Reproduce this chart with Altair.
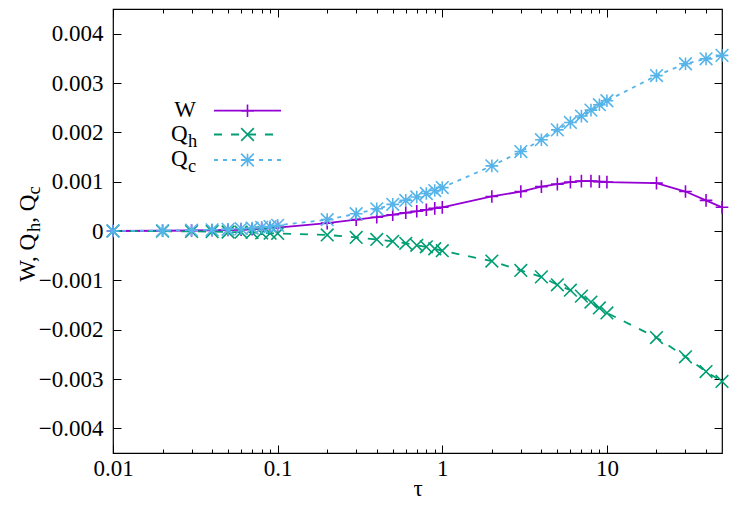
import altair as alt
import pandas as pd

# ---------------- data ----------------
tau = [0.01, 0.02, 0.03, 0.04, 0.05, 0.06, 0.07, 0.08, 0.09,
       0.1, 0.2, 0.3, 0.4, 0.5, 0.6, 0.7, 0.8, 0.9,
       1, 2, 3, 4, 5, 6, 7, 8, 9,
       10, 20, 30, 40, 50]

W = [0.0, 0.000005, 0.00001, 0.000015, 0.00002, 0.000028, 0.000036, 0.000045, 0.000055,
     0.00007, 0.00016, 0.00023, 0.00028, 0.00033, 0.00037, 0.0004, 0.00043, 0.00046,
     0.00048, 0.0007, 0.0008, 0.0009, 0.00095, 0.00099, 0.00101, 0.00101, 0.001,
     0.00099, 0.00097, 0.0008, 0.00062, 0.00048]

Q_h = [0.0, -0.000004, -0.000008, -0.000012, -0.00002, -0.000025, -0.00003, -0.00004, -0.000045,
       -0.00005, -0.00008, -0.00013, -0.00017, -0.00021, -0.00025, -0.00029, -0.00032, -0.00036,
       -0.0004, -0.00061, -0.0008, -0.00093, -0.00109, -0.0012, -0.00132, -0.00144, -0.00156,
       -0.00166, -0.00216, -0.00255, -0.00285, -0.00305]

Q_c = [0.0, 0.000008, 0.000016, 0.000025, 0.000034, 0.000046, 0.00006, 0.000075, 0.00009,
       0.000115, 0.00023, 0.00035, 0.00045, 0.00054, 0.00062, 0.00069, 0.00076, 0.00082,
       0.00088, 0.00132, 0.00161, 0.00185, 0.00205, 0.0022, 0.00233, 0.00245, 0.00256,
       0.00264, 0.00315, 0.00339, 0.00349, 0.00356]

series_names = ["W", "Q_h", "Q_c"]
series_values = [W, Q_h, Q_c]

x_major_ticks = [0.01, 0.1, 1, 10]
x_minor_ticks = [0.02, 0.03, 0.04, 0.05, 0.06, 0.07, 0.08, 0.09,
                 0.2, 0.3, 0.4, 0.5, 0.6, 0.7, 0.8, 0.9,
                 2, 3, 4, 5, 6, 7, 8, 9, 20, 30, 40]
y_ticks = [-0.004, -0.003, -0.002, -0.001, 0.0, 0.001, 0.002, 0.003, 0.004]

# ---------------- styles ----------------
FONT = "Liberation Serif"
FS = 23
SUB_FS = 18.4
colors = {"W": "#9400D3", "Q_h": "#009E73", "Q_c": "#56B4E9"}
dashes = {"W": None, "Q_h": [8, 9], "Q_c": [4, 5]}
shapes = {
    "W": "M-1,0L1,0M0,-1L0,1",
    "Q_h": "M-1,-1L1,1M-1,1L1,-1",
    "Q_c": "M-1,0L1,0M0,-1L0,1M-1,-1L1,1M-1,1L1,-1",
}
MARK_SIZE = 160

rows = []
for name, vals in zip(series_names, series_values):
    for t, v in zip(tau, vals):
        rows.append({"tau": t, "value": v, "series": name})
df = pd.DataFrame(rows)

xscale = alt.Scale(type="log", domain=[0.01, 50], nice=False)
yscale = alt.Scale(domain=[-0.0045, 0.0045], nice=False, zero=False)

common = dict(grid=False, domain=False, tickColor="black", tickWidth=1,
              labelFont=FONT, labelFontSize=FS, labelColor="black")

ax_x_bottom_major = alt.Axis(orient="bottom", values=x_major_ticks, format="~g",
                             tickSize=8, offset=-8, labelPadding=4,
                             labelFlush=False, labelOverlap=False,
                             title="τ", titleFont=FONT, titleFontSize=FS,
                             titleFontWeight="normal", titleColor="black",
                             titleY=50, titleBaseline="alphabetic", **common)
ax_x_bottom_minor = alt.Axis(orient="bottom", values=x_minor_ticks, tickSize=4,
                             offset=-4, labels=False, title=None, **common)
ax_x_top_major = alt.Axis(orient="top", values=x_major_ticks, tickSize=8,
                          offset=-8, labels=False, title=None, **common)
ax_x_top_minor = alt.Axis(orient="top", values=x_minor_ticks, tickSize=4,
                          offset=-4, labels=False, title=None, **common)
ax_y_left = alt.Axis(orient="left", values=y_ticks, format=".3~f", tickSize=8,
                     offset=-8, labelPadding=10, labelOverlap=False,
                     labelFlush=False, title=None, **common)
ax_y_right = alt.Axis(orient="right", values=y_ticks, tickSize=8, offset=-8,
                      labels=False, title=None, **common)

x_axes = [ax_x_bottom_major, ax_x_bottom_minor, ax_x_top_major, ax_x_top_minor, None, None]
y_axes = [ax_y_left, ax_y_right, None, None, None, None]

base = alt.Chart(df)
layers = []
k = 0
for name in series_names:
    sub = base.transform_filter(alt.datum.series == name)
    line_kw = dict(color=colors[name], strokeWidth=1.8)
    if dashes[name]:
        line_kw["strokeDash"] = dashes[name]
    for mk in ("line", "point"):
        xa, ya = x_axes[k], y_axes[k]
        xenc = alt.X("tau:Q", scale=xscale, axis=xa)
        yenc = alt.Y("value:Q", scale=yscale, axis=ya)
        if mk == "line":
            layer = sub.mark_line(**line_kw).encode(x=xenc, y=yenc, order="tau:Q")
        else:
            layer = sub.mark_point(shape=shapes[name], size=MARK_SIZE, filled=False,
                                   color=colors[name], strokeWidth=1.6, opacity=1).encode(x=xenc, y=yenc)
        layers.append(layer)
        k += 1

# ---------------- manual legend (gnuplot style key, with subscripts) ----------------
legend_rows = {"W": 101.7, "Q_h": 125.5, "Q_c": 151.0}
legend_main = {"W": "W", "Q_h": "Q", "Q_c": "Q"}
legend_sub = {"W": "", "Q_h": "h", "Q_c": "c"}
for name in series_names:
    ry = legend_rows[name]
    one = alt.Data(values=[{"s": name}])
    rule_kw = dict(color=colors[name], strokeWidth=1.8)
    if dashes[name]:
        rule_kw["strokeDash"] = dashes[name]
    layers.append(alt.Chart(one).mark_rule(**rule_kw).encode(
        x=alt.value(101), x2=alt.value(168), y=alt.value(ry)))
    layers.append(alt.Chart(one).mark_point(shape=shapes[name], size=MARK_SIZE, filled=False,
                                             color=colors[name], strokeWidth=1.6, opacity=1).encode(
        x=alt.value(134.5), y=alt.value(ry)))
    if legend_sub[name]:
        layers.append(alt.Chart(one).mark_text(align="right", baseline="alphabetic", font=FONT,
                                                fontSize=FS, color="black").encode(
            text=alt.value(legend_main[name]), x=alt.value(74.5), y=alt.value(ry + 6)))
        layers.append(alt.Chart(one).mark_text(align="left", baseline="alphabetic", font=FONT,
                                                fontSize=SUB_FS, color="black", dy=6).encode(
            text=alt.value(legend_sub[name]), x=alt.value(75), y=alt.value(ry + 6)))
    else:
        layers.append(alt.Chart(one).mark_text(align="right", baseline="alphabetic", font=FONT,
                                                fontSize=FS, color="black").encode(
            text=alt.value(legend_main[name]), x=alt.value(83), y=alt.value(ry + 6)))

# ---------------- y axis title "W, Q_h, Q_c" (rotated, with subscripts) ----------------
title_pieces = [("W, Q", FS, 0, 0), ("h", SUB_FS, 49.8, 5), (", Q", FS, 59.0, 0), ("c", SUB_FS, 87.1, 5)]
for txt, fs, dx, dy in title_pieces:
    layers.append(alt.Chart(alt.Data(values=[{"t": txt}])).mark_text(
        angle=270, align="left", baseline="alphabetic", font=FONT, fontSize=fs,
        color="black", dx=dx, dy=dy).encode(
        text=alt.value(txt), x=alt.value(-78), y=alt.value(272.7)))

chart = alt.layer(*layers).resolve_axis(x="independent", y="independent").properties(
    width=609, height=444,
    padding={"left": 105, "top": 1, "right": 12, "bottom": 47},
    autosize=alt.AutoSizeParams(type="none"),
    background="white",
).configure_view(stroke="black", strokeWidth=1.2)

chart.save("out.html", embed_options={"renderer": "svg", "actions": False})
